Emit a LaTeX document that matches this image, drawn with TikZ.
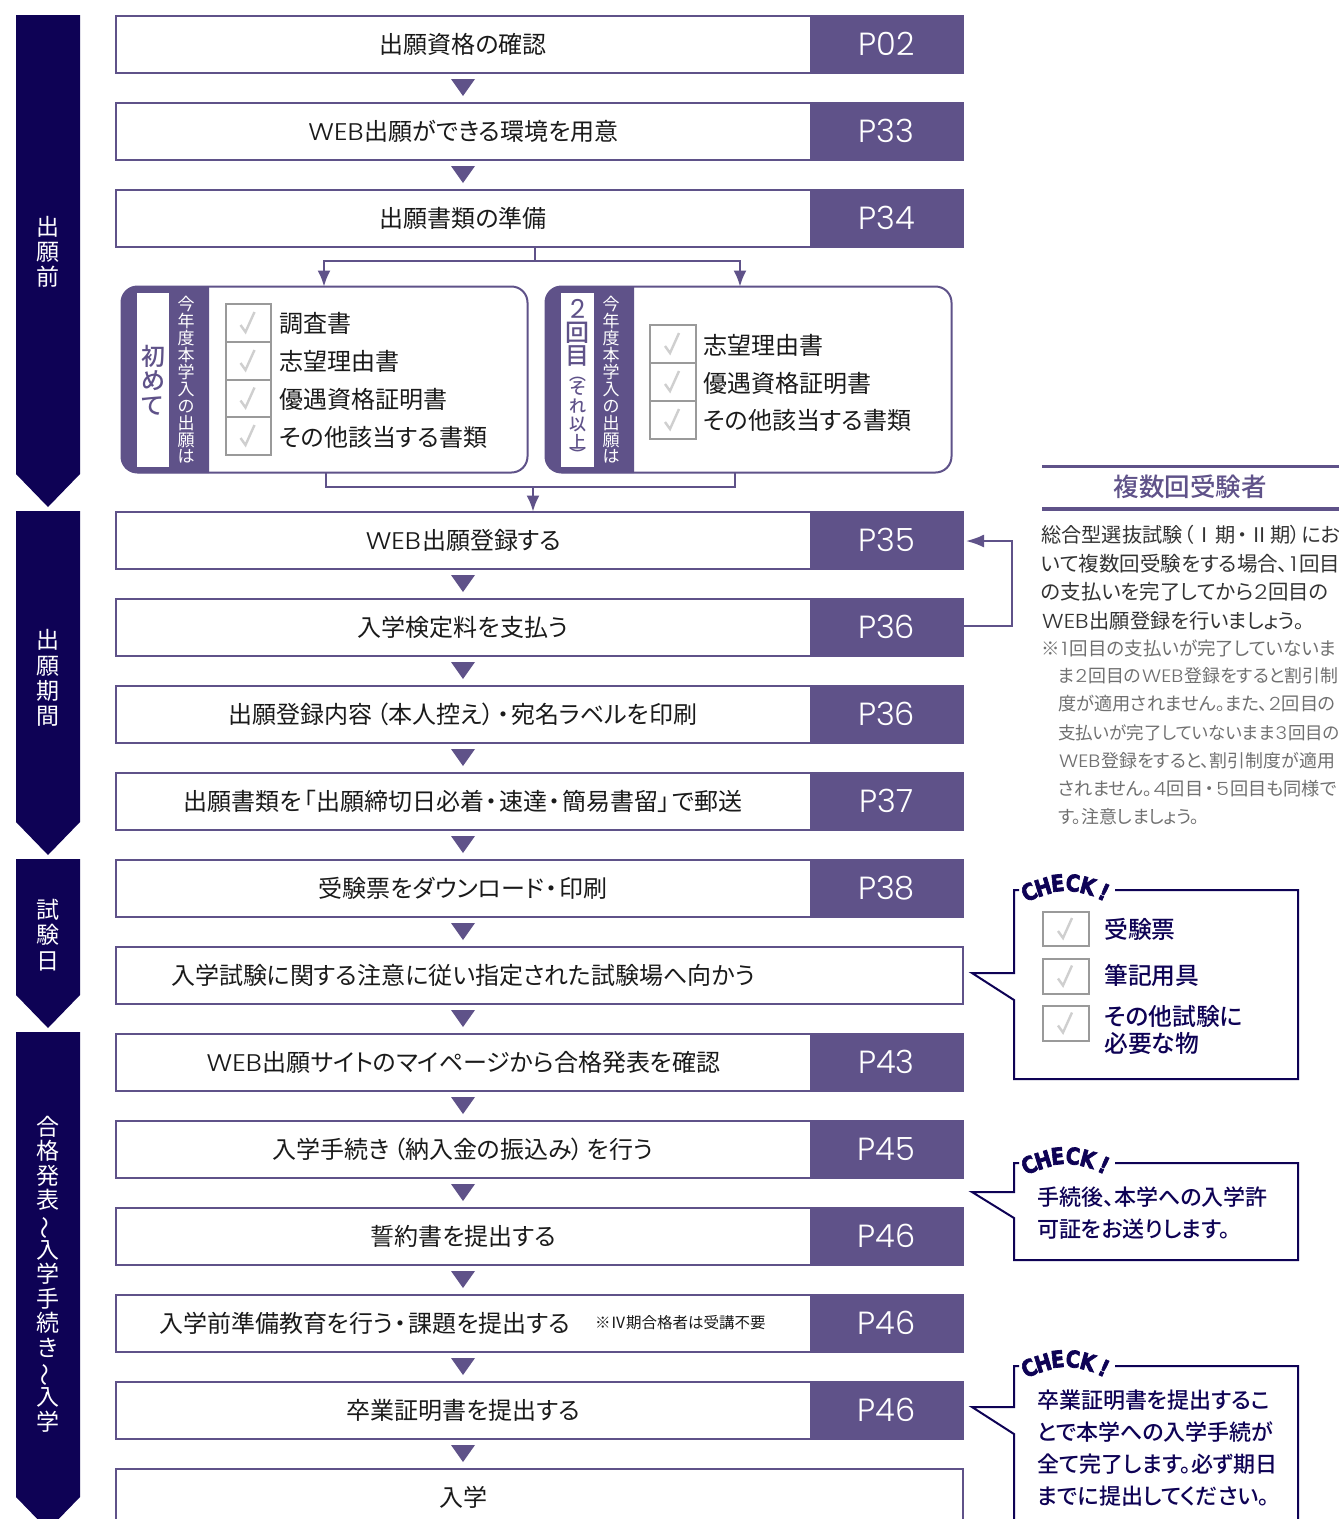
\documentclass[tikz,border=0pt]{standalone}
\usepackage{fontspec}
\usetikzlibrary{arrows.meta,calc}
\setmainfont{Noto Sans CJK JP}[RawFeature={+palt}]
\newfontfamily\medfont{Noto Sans CJK JP Medium}[RawFeature={+palt}]
\newfontfamily\pagefont{Poppins Light}
\newfontfamily\latfont{Poppins}
\newfontfamily\checkfont{DejaVu Sans Bold}[FakeBold=3]
\definecolor{vio}{HTML}{5F5289}
\definecolor{navy}{HTML}{0E0255}
\definecolor{ink}{HTML}{1A1A1A}
\definecolor{body}{HTML}{333333}
\definecolor{note}{HTML}{707070}
\definecolor{boxgray}{HTML}{9A9A9A}
\definecolor{tickgray}{HTML}{CFCFCF}
\newcommand\fs[1]{\fontsize{#1}{#1}\selectfont}
\newcommand\rot[1]{\rotatebox[origin=c]{90}{#1}}
\newcommand\rotc[1]{\rotatebox[origin=c]{-90}{#1}}
\newcommand\lat[1]{\hspace{1pt}{\pagefont\scalebox{1.12}[1]{#1}}\hspace{1pt}}
\newcommand\dotc{\hspace{1.5pt}・\hspace{1.5pt}}
\newcommand\bro[1]{\hspace{#1}}
\tikzset{
  x=1pt,y=-1pt,
  rowbox/.style={draw=vio,line width=2pt,fill=white,minimum width=847pt,minimum height=57pt,inner sep=0pt,outer sep=0pt},
  pagebox/.style={fill=vio,minimum width=153pt,minimum height=58pt,inner sep=0pt,text=white,font=\pagefont\fs{32}},
  rowtext/.style={text=ink,font=\fs{24},inner sep=0pt},
  link/.style={draw=vio,line width=2pt},
  tip/.style={-{Latex[length=16pt,width=13pt]}},
  docbox/.style={draw=vio,line width=2pt,fill=white,rounded corners=16pt,minimum width=406pt,minimum height=186pt,inner sep=0pt,outer sep=0pt},
  doctext/.style={anchor=west,text=ink,font=\fs{24},inner sep=0pt},
  vtext/.style={align=center,inner sep=0pt},
  sidetext/.style={anchor=west,inner sep=0pt,text=body,font=\fs{20.2}},
  sidenote/.style={anchor=west,inner sep=0pt,text=note,font=\fs{17.9}},
  calltext/.style={anchor=west,inner sep=0pt,text=navy,font=\medfont\fs{22}},
  callitem/.style={anchor=west,inner sep=0pt,text=navy,font=\medfont\fs{23.8}},
  callline/.style={draw=navy,line width=2pt,line join=miter},
  chk/.style={inner sep=0pt,text=navy,font=\checkfont\fs{23}},
}
\newcommand\flowrow[4]{%
  \node[rowbox] (#1) at (539,#2+29) {};
  \node[pagebox] (#1p) at (886.5,#2+29) {#4};
  \node[rowtext] (#1t) at (463,#2+29) {#3};
}
\newcommand\flowtri[1]{\fill[vio] (451,#1-23) -- (475,#1-23) -- (463,#1-6) -- cycle;}
\newcommand\banner[3]{\fill[navy] (16,#1) -- (80,#1) -- (80,#2) -- (48,#3) -- (16,#2) -- cycle;}
\newcommand\tickbox[4]{%
  \draw[draw=boxgray,line width=2pt,fill=white] (#1,#2) rectangle (#3,#4);
  \draw[draw=tickgray,line width=2.4pt] ($(#1/2+#3/2,#2/2+#4/2)+(-8,2)$) -- ($(#1/2+#3/2,#2/2+#4/2)+(-3,9)$) -- ($(#1/2+#3/2,#2/2+#4/2)+(6,-11)$);
}
\newcommand\cl[1]{\scalebox{.85}[1]{#1}}
\newcommand\checkhead[1]{%
  \node[chk,rotate=28] (ck1) at (1029,#1+2) {\cl{C}};
  \node[chk,rotate=17] (ck2) at (1043,#1-3) {\cl{H}};
  \node[chk,rotate=6] (ck3) at (1057.5,#1-7) {\cl{E}};
  \node[chk,rotate=-5] (ck4) at (1073,#1-7) {\cl{C}};
  \node[chk,rotate=-15] (ck5) at (1088,#1-4) {\cl{K}};
  \node[chk,rotate=-25] (ck6) at (1104,#1+2) {\cl{!}};
}
\begin{document}
\begin{tikzpicture}
\useasboundingbox (0,0) rectangle (1339,1519);
\clip (0,0) rectangle (1339,1519);
\fill[white] (0,0) rectangle (1339,1519);
\banner{15}{474}{507}
\banner{511}{822}{855}
\banner{859}{995}{1028}
\banner{1032}{1497}{1530}
\node[vtext,text=white,font=\fontsize{23}{25.2}\selectfont] (b1) at (48,252) {出\\願\\前};
\node[vtext,text=white,font=\fontsize{23}{25.2}\selectfont] (b2) at (48,678) {出\\願\\期\\間};
\node[vtext,text=white,font=\fontsize{23}{25.2}\selectfont] (b3) at (48,935) {試\\験\\日};
\node[vtext,text=white,font=\fontsize{23}{24.6}\selectfont] (b4) at (48,1274) {合\\格\\発\\表\\\rot{～}\\入\\学\\手\\続\\き\\\rot{～}\\入\\学};
\flowrow{r1}{15}{出願資格の確認}{P02}
\flowrow{r2}{102}{\lat{WEB}出願ができる環境を用意}{P33}
\flowrow{r3}{189}{出願書類の準備}{P34}
\flowrow{r4}{511}{\lat{WEB}出願登録する}{P35}
\flowrow{r5}{598}{入学検定料を支払う}{P36}
\flowrow{r6}{685}{出願登録内容\bro{4pt}（本人控え）\bro{2pt}\dotc 宛名ラベルを印刷}{P36}
\flowrow{r7}{772}{出願書類を\bro{2.5pt}「出願締切日必着\dotc 速達\dotc 簡易書留」\bro{2.5pt}で郵送}{P37}
\flowrow{r8}{859}{受験票をダウンロード\dotc 印刷}{P38}
\node[rowbox] (r9) at (539,975) {};
\node[rowtext] (r9t) at (463,975) {入学試験に関する注意に従い指定された試験場へ向かう};
\flowrow{r10}{1033}{\lat{WEB}出願サイトのマイページから合格発表を確認}{P43}
\flowrow{r11}{1120}{入学手続き\bro{3.5pt}（納入金の振込み）\bro{3.5pt}を行う}{P45}
\flowrow{r12}{1207}{誓約書を提出する}{P46}
\node[rowbox] (r13) at (539,1323) {};
\node[pagebox] (r13p) at (886.5,1323) {P46};
\node[rowtext,anchor=west] (r13t) at (159,1323) {入学前準備教育を行う\dotc 課題を提出する};
\node[rowtext,anchor=west,font=\fs{15.5}] (r13n) at (595,1323) {※Ⅳ期合格者は受講不要};
\flowrow{r14}{1381}{卒業証明書を提出する}{P46}
\node[rowbox] (r15) at (539,1497) {};
\node[rowtext] (r15t) at (463,1497) {入学};
\flowtri{102}\flowtri{189}\flowtri{598}\flowtri{685}\flowtri{772}\flowtri{859}\flowtri{946}\flowtri{1033}\flowtri{1120}\flowtri{1207}\flowtri{1294}\flowtri{1381}\flowtri{1468}
\node[docbox] (docA) at (324.5,379.5) {};
\fill[vio] (209,286) [rounded corners=16pt] -- (121,286) -- (121,473) [sharp corners] -- (209,473) -- cycle;
\fill[white] (137,293) rectangle (169,467);
\node[vtext,text=vio,font=\medfont\fontsize{24}{24.5}\selectfont] (docAa) at (153,380) {初\\め\\て};
\node[vtext,text=white,font=\fontsize{17}{16.9}\selectfont] (docAb) at (186,380) {今\\年\\度\\本\\学\\入\\の\\出\\願\\は};
\tickbox{226}{304}{271}{342}
\tickbox{226}{342}{271}{380}
\tickbox{226}{380}{271}{417}
\tickbox{226}{417}{271}{455}
\node[doctext] (a1) at (279,323) {調査書};
\node[doctext] (a2) at (279,361) {志望理由書};
\node[doctext] (a3) at (279,399) {優遇資格証明書};
\node[doctext] (a4) at (279,437) {その他該当する書類};
\node[docbox] (docB) at (748.5,379.5) {};
\fill[vio] (634,286) [rounded corners=16pt] -- (545,286) -- (545,473) [sharp corners] -- (634,473) -- cycle;
\fill[white] (561,293) rectangle (594,467);
\node[text=vio,inner sep=0pt,font=\latfont\fs{26}] (docBa) at (577.5,309) {2};
\node[vtext,text=vio,font=\medfont\fontsize{24}{23.5}\selectfont] (docBb) at (577.5,344) {回\\目};
\node[vtext,text=vio,inner sep=0pt,font=\medfont\fs{17}] (docBo) at (577.5,379) {\rotc{（}};
\node[vtext,text=vio,font=\medfont\fontsize{17}{17.8}\selectfont] (docBc) at (577.5,415) {そ\\れ\\以\\上};
\node[vtext,text=vio,inner sep=0pt,font=\medfont\fs{17}] (docBe) at (577.5,452) {\rotc{）}};
\node[vtext,text=white,font=\fontsize{17}{16.9}\selectfont] (docBd) at (611,380) {今\\年\\度\\本\\学\\入\\の\\出\\願\\は};
\tickbox{650}{325}{696}{363}
\tickbox{650}{363}{696}{401}
\tickbox{650}{401}{696}{439}
\node[doctext] (b1t) at (703,345) {志望理由書};
\node[doctext] (b2t) at (703,383) {優遇資格証明書};
\node[doctext] (b3t) at (703,420) {その他該当する書類};
\coordinate (split) at (535,261);
\coordinate (toA) at (324,261);
\coordinate (toB) at (740,261);
\draw[link] (r3.south -| split) -- (split);
\draw[link,tip] (split) -- (toA) -- (toA |- docA.north);
\draw[link,tip] (split) -- (toB) -- (toB |- docB.north);
\coordinate (joinA) at (326,487);
\coordinate (joinB) at (735,487);
\coordinate (merge) at (533,487);
\draw[link] (joinA |- docA.south) -- (joinA) -- (joinB) -- (joinB |- docB.south);
\draw[link,tip] (merge) -- (merge |- r4.north);
\coordinate (loopA) at (1012,626);
\coordinate (loopB) at (1012,541);
\draw[link,-{Latex[length=18pt,width=13pt]}] (r5.east |- loopA) -- (loopA) -- (loopB) -- (966,541);
\draw[draw=vio,line width=3.6pt] (1042,466.5) -- (1339,466.5);
\draw[draw=vio,line width=3.6pt] (1042,509) -- (1339,509);
\node[inner sep=0pt,text=vio,font=\medfont\fs{25.5}] (ptitle) at (1190,487) {複数回受験者};
\node[sidetext] (s1) at (1041,535) {総合型選抜試験\bro{1pt}（\bro{1pt}Ⅰ\bro{1pt}期\dotc Ⅱ\bro{1pt}期）\bro{0.5pt}にお};
\node[sidetext,font=\fs{20.5}] (s2) at (1041,564) {いて複数回受験をする場合、\bro{1pt}\lat{1}\bro{1pt}回目};
\node[sidetext,font=\fs{20.4}] (s3) at (1041,592) {の支払いを完了してから\lat{2}回目の};
\node[sidetext] (s4) at (1041,621) {\lat{WEB}出願登録を行いましょう。};
\node[sidenote,font=\fs{18.5}] (n1) at (1041,648) {※\bro{1pt}\lat{1}\bro{1pt}回目の支払いが完了していないま};
\node[sidenote] (n2) at (1058,676) {ま\lat{2}回目の\lat{WEB}登録をすると割引制};
\node[sidenote,font=\fs{18.2}] (n3) at (1058,704) {度が適用されません。また、\lat{2}回目の};
\node[sidenote,font=\fs{17.5}] (n4) at (1058,733) {支払いが完了していないまま\lat{3}回目の};
\node[sidenote] (n5) at (1058,761) {\lat{WEB}登録をすると、割引制度が適用};
\node[sidenote,font=\fs{18.2}] (n6) at (1058,789) {されません。\lat{4}回目\dotc\lat{5}回目も同様で};
\node[sidenote] (n7) at (1058,817) {す。注意しましょう。};
\draw[callline] (1019,890) -- (1014,890) -- (1014,973) -- (972,973) -- (1014,1000) -- (1014,1079) -- (1298,1079) -- (1298,890) -- (1115,890);
\checkhead{890}
\tickbox{1043}{912}{1089}{946}
\tickbox{1043}{959}{1089}{994}
\tickbox{1043}{1006}{1089}{1041}
\node[callitem] (c1a) at (1104,929) {受験票};
\node[callitem] (c1b) at (1104,976) {筆記用具};
\node[callitem] (c1c) at (1104,1016) {その他試験に};
\node[callitem] (c1d) at (1104,1043) {必要な物};
\draw[callline] (1019,1163) -- (1014,1163) -- (1014,1192) -- (972,1192) -- (1014,1218) -- (1014,1260) -- (1298,1260) -- (1298,1163) -- (1115,1163);
\checkhead{1163}
\node[calltext] (c2a) at (1037,1197) {手続後、本学への入学許};
\node[calltext] (c2b) at (1037,1229) {可証をお送りします。};
\draw[callline] (1019,1366) -- (1014,1366) -- (1014,1407) -- (972,1407) -- (1014,1434) -- (1014,1540) -- (1298,1540) -- (1298,1366) -- (1115,1366);
\checkhead{1366}
\node[calltext] (c3a) at (1037,1400) {卒業証明書を提出するこ};
\node[calltext] (c3b) at (1037,1432) {とで本学への入学手続が};
\node[calltext] (c3c) at (1037,1464) {全て完了します。必ず期日};
\node[calltext] (c3d) at (1037,1496) {までに提出してください。};
\end{tikzpicture}
\end{document}
